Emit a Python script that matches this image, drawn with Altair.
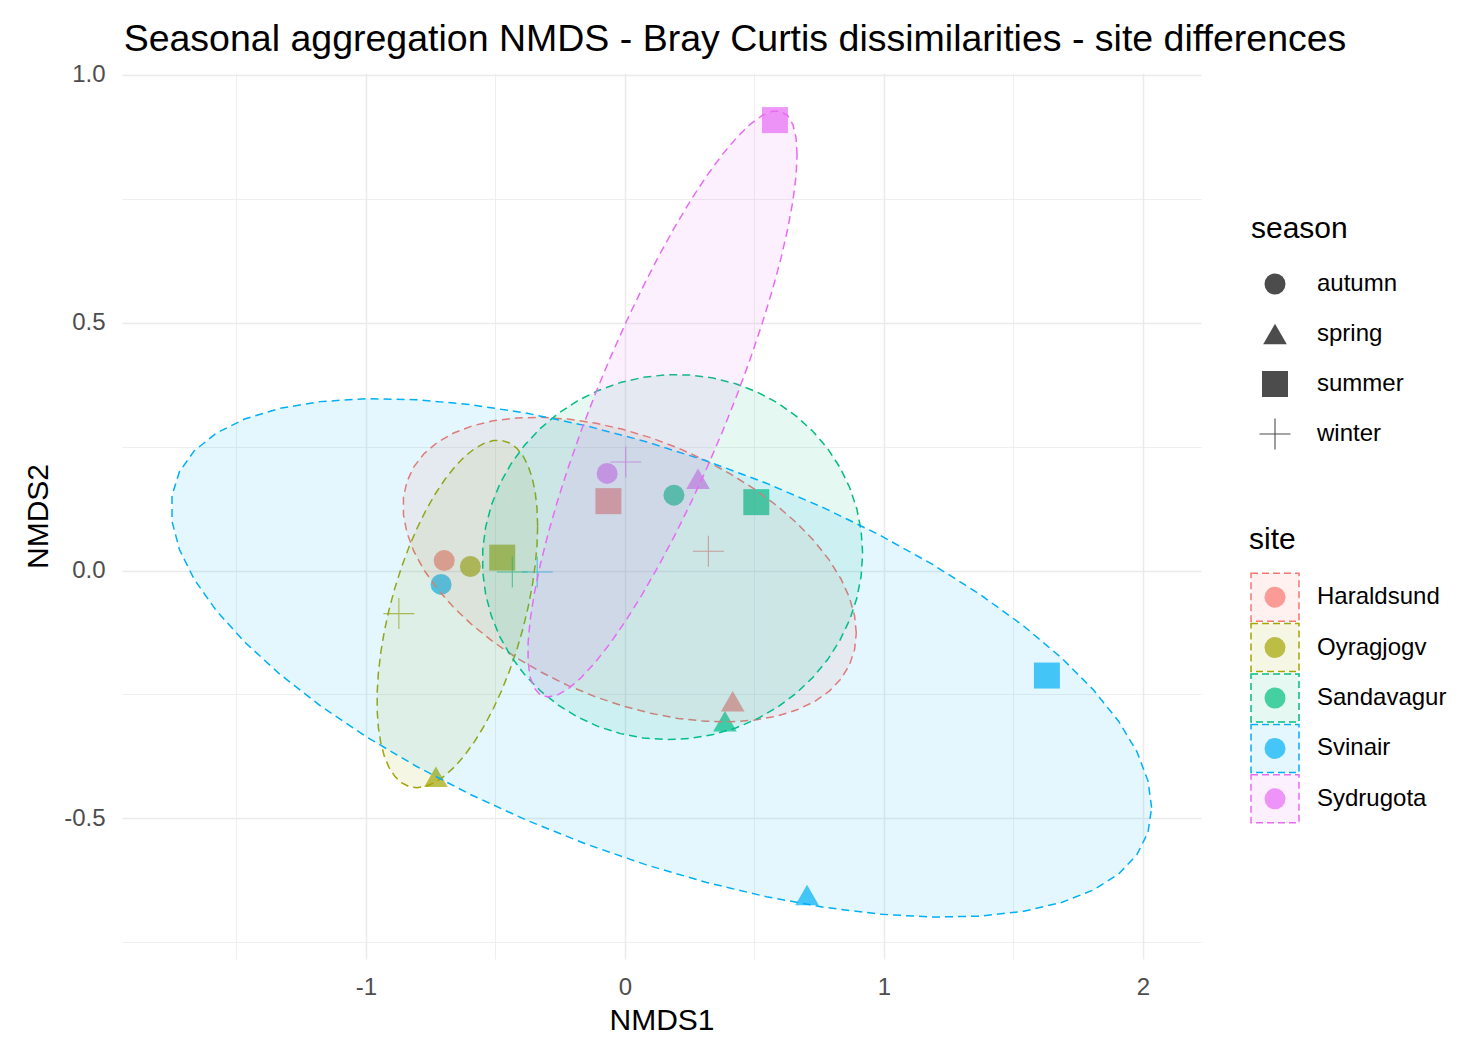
import numpy as np
import pandas as pd
import altair as alt

# ---------------- data ----------------
sites = ["Haraldsund", "Oyragjogv", "Sandavagur", "Svinair", "Sydrugota"]
seasons = ["autumn", "spring", "summer", "winter"]
site_colors = ["#F8766D", "#A3A500", "#00BF7D", "#00B0F6", "#E76BF3"]

# NMDS scores, season order: autumn, spring, summer, winter
haraldsund_nmds1 = [-0.698, 0.416, -0.064, 0.322]
haraldsund_nmds2 = [0.020, -0.264, 0.140, 0.039]
oyragjogv_nmds1 = [-0.597, -0.730, -0.474, -0.873]
oyragjogv_nmds2 = [0.008, -0.416, 0.026, -0.087]
sandavagur_nmds1 = [0.189, 0.386, 0.507, -0.435]
sandavagur_nmds2 = [0.152, -0.304, 0.138, -0.003]
svinair_nmds1 = [-0.710, 0.703, 1.629, -0.339]
svinair_nmds2 = [-0.028, -0.655, -0.212, -0.003]
sydrugota_nmds1 = [-0.069, 0.282, 0.579, 0.003]
sydrugota_nmds2 = [0.196, 0.185, 0.909, 0.219]

x_ticks = [-1, 0, 1, 2]
x_tick_labels = ["-1", "0", "1", "2"]
x_minor = [-1.5, -0.5, 0.5, 1.5]
y_ticks = [-0.5, 0.0, 0.5, 1.0]
y_tick_labels = ["-0.5", "0.0", "0.5", "1.0"]
y_minor = [-0.75, -0.25, 0.25, 0.75]
x_domain = [-1.942, 2.224]
y_domain = [-0.784, 1.004]

ellipse_level = 0.75
title_text = "Seasonal aggregation NMDS - Bray Curtis dissimilarities - site differences"

# ---------------- tables ----------------
nmds1 = {"Haraldsund": haraldsund_nmds1, "Oyragjogv": oyragjogv_nmds1,
         "Sandavagur": sandavagur_nmds1, "Svinair": svinair_nmds1,
         "Sydrugota": sydrugota_nmds1}
nmds2 = {"Haraldsund": haraldsund_nmds2, "Oyragjogv": oyragjogv_nmds2,
         "Sandavagur": sandavagur_nmds2, "Svinair": svinair_nmds2,
         "Sydrugota": sydrugota_nmds2}

rows = []
for s in sites:
    for i, se in enumerate(seasons):
        rows.append({"site": s, "season": se, "NMDS1": nmds1[s][i], "NMDS2": nmds2[s][i]})
pts = pd.DataFrame(rows)


# stat_ellipse (type "t"): MASS::cov.trob + F quantile radius
def cov_trob(x, nu=5, maxit=25, tol=0.01):
    n, p = x.shape
    wt = np.ones(n)
    loc = x.mean(0)
    w = np.sqrt(wt)
    X = x - loc
    for _ in range(maxit):
        w0 = w
        X = x - loc
        _, d, vt = np.linalg.svd(np.sqrt(w / w.sum())[:, None] * X, full_matrices=False)
        wX = X @ vt.T @ np.diag(1.0 / d)
        Q = (wX ** 2).sum(1)
        w = wt * (nu + p) / (nu + Q)
        loc = (w[:, None] * x).sum(0) / w.sum()
        if np.all(np.abs(w - w0) < tol):
            break
    sw = np.sqrt(w)[:, None] * X
    return sw.T @ sw / wt.sum(), loc


ell_rows = []
for s in sites:
    xy = np.column_stack([nmds1[s], nmds2[s]])
    shape, center = cov_trob(xy)
    dfd = xy.shape[0] - 1
    fq = dfd / 2.0 * ((1 - ellipse_level) ** (-2.0 / dfd) - 1)
    radius = np.sqrt(2 * fq)
    R = np.linalg.cholesky(shape).T
    ang = np.arange(0, 52) * 2 * np.pi / 51
    circ = np.column_stack([np.cos(ang), np.sin(ang)])
    e = center + radius * (circ @ R)
    for k in range(len(ang)):
        ell_rows.append({"site": s, "idx": k, "NMDS1": e[k, 0], "NMDS2": e[k, 1]})
ell = pd.DataFrame(ell_rows)


def label_expr(vals, labels):
    expr = "''"
    for v, l in reversed(list(zip(vals, labels))):
        expr = f"datum.value == {v} ? '{l}' : ({expr})"
    return expr


FONT = "Liberation Sans"
GRID = "#EBEBEB"

x_enc = alt.X(
    "NMDS1:Q",
    title="NMDS1",
    scale=alt.Scale(domain=x_domain, nice=False, zero=False),
    axis=alt.Axis(
        values=sorted(x_ticks + x_minor), labelExpr=label_expr(x_ticks, x_tick_labels),
        grid=True, gridColor=GRID,
        gridWidth={"condition": {"test": "datum.value % 1 == 0", "value": 1.5}, "value": 0.8},
        domain=False, ticks=False, labelPadding=16, labelFontSize=24, labelColor="#4D4D4D",
        labelFont=FONT, titleFont=FONT, titleFontSize=30, titleFontWeight="normal",
        titleColor="black", titlePadding=6,
    ),
)
y_enc = alt.Y(
    "NMDS2:Q",
    title="NMDS2",
    scale=alt.Scale(domain=y_domain, nice=False, zero=False),
    axis=alt.Axis(
        values=sorted(y_ticks + y_minor), labelExpr=label_expr(y_ticks, y_tick_labels),
        grid=True, gridColor=GRID,
        gridWidth={"condition": {"test": "(datum.value * 2) % 1 == 0", "value": 1.5}, "value": 0.8},
        domain=False, ticks=False, labelPadding=17, labelFontSize=24, labelColor="#4D4D4D",
        labelFont=FONT, titleFont=FONT, titleFontSize=30, titleFontWeight="normal",
        titleColor="black", titlePadding=10,
    ),
)

color_scale = alt.Scale(domain=sites, range=site_colors)
shape_scale = alt.Scale(domain=["autumn", "spring", "summer"],
                        range=["circle", "triangle-up", "square"])
size_scale = alt.Scale(domain=["autumn", "spring", "summer"], range=[441, 676, 441])
PLUS = "M-1,0L1,0M0,-1L0,1"

base = alt.Chart(pts)
filled_pts = base.transform_filter("datum.season != 'winter'").mark_point(
    filled=True, opacity=0.7, strokeWidth=0
).encode(
    x=x_enc, y=y_enc,
    color=alt.Color("site:N", scale=color_scale, legend=None),
    shape=alt.Shape("season:N", scale=shape_scale, legend=None),
    size=alt.Size("season:O", scale=size_scale, legend=None),
)
winter_pts = base.transform_filter("datum.season == 'winter'").mark_point(
    filled=False, shape=PLUS, size=961, strokeWidth=1.1, opacity=0.7
).encode(
    x=x_enc, y=y_enc,
    color=alt.Color("site:N", scale=color_scale, legend=None),
)
ellipses = alt.Chart(ell).mark_line(
    strokeDash=[8, 5], strokeWidth=1.5, fillOpacity=0.1, clip=True
).encode(
    x=x_enc, y=y_enc,
    order=alt.Order("idx:Q"),
    fill=alt.Fill("site:N", scale=color_scale, legend=None),
    stroke=alt.Stroke("site:N", scale=color_scale, legend=None),
)

main = alt.layer(filled_pts, winter_pts, ellipses).properties(width=1079, height=886)

# ---------------- legends ----------------
KEY_X = 24
LABEL_X = 66
season_df = pd.DataFrame({"season": seasons})
sy = alt.Y("season:N", axis=None, scale=alt.Scale(domain=seasons))
season_leg = alt.layer(
    alt.Chart(season_df).transform_filter("datum.season != 'winter'").mark_point(
        filled=True, color="black", opacity=0.7, strokeWidth=0
    ).encode(
        x=alt.value(KEY_X), y=sy,
        shape=alt.Shape("season:N", scale=shape_scale, legend=None),
        size=alt.Size("season:O", scale=size_scale, legend=None),
    ),
    alt.Chart(season_df).transform_filter("datum.season == 'winter'").mark_point(
        filled=False, shape=PLUS, size=961, strokeWidth=1.1, color="black", opacity=0.7
    ).encode(x=alt.value(KEY_X), y=sy),
    alt.Chart(season_df).mark_text(
        align="left", baseline="middle", fontSize=24, font=FONT, color="black"
    ).encode(x=alt.value(LABEL_X), y=sy, text="season:N"),
).properties(
    width=200, height=200,
    title=alt.TitleParams("season", anchor="start", fontSize=30, fontWeight="normal",
                          font=FONT, color="black", offset=15),
)

site_df = pd.DataFrame({"site": sites})
ty = alt.Y("site:N", axis=None, scale=alt.Scale(domain=sites))
site_leg = alt.layer(
    alt.Chart(site_df).mark_square(
        size=2304, fillOpacity=0.1, strokeDash=[7, 4], strokeWidth=1.5
    ).encode(
        x=alt.value(KEY_X), y=ty,
        fill=alt.Fill("site:N", scale=color_scale, legend=None),
        stroke=alt.Stroke("site:N", scale=color_scale, legend=None),
    ),
    alt.Chart(site_df).mark_circle(size=441, opacity=0.7).encode(
        x=alt.value(KEY_X), y=ty,
        color=alt.Color("site:N", scale=color_scale, legend=None),
    ),
    alt.Chart(site_df).mark_text(
        align="left", baseline="middle", fontSize=24, font=FONT, color="black"
    ).encode(x=alt.value(LABEL_X), y=ty, text="site:N"),
).properties(
    width=200, height=252,
    title=alt.TitleParams("site", anchor="start", fontSize=30, fontWeight="normal",
                          font=FONT, color="black", offset=15, dx=1),
)

spacer = alt.Chart(pd.DataFrame({"v": [0]})).mark_point(opacity=0).encode(
    x=alt.value(0), y=alt.value(0)
).properties(width=200, height=75)

legend_col = alt.vconcat(spacer, season_leg, site_leg, spacing=66)

chart = alt.hconcat(main, legend_col, spacing=47).properties(
    title=alt.TitleParams(title_text, anchor="start", fontSize=37.5, fontWeight="normal",
                          font=FONT, color="black", dx=100, offset=4),
    padding={"left": 15, "top": 13, "right": 5, "bottom": 5},
    background="white",
).configure(font=FONT).configure_view(strokeWidth=0, stroke="transparent")

chart.save("out.html", embed_options={"renderer": "svg", "actions": False})
